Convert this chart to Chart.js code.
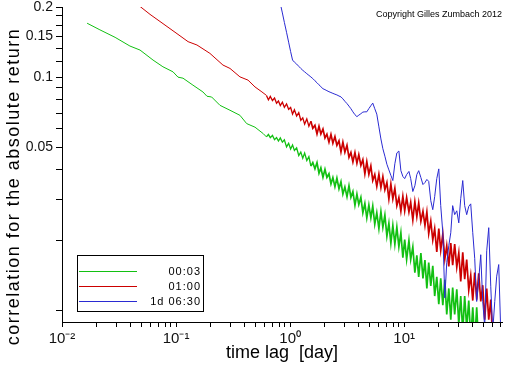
<!DOCTYPE html>
<html lang="en">
<head>
  <meta charset="UTF-8" />
  <title>correlation for the absolute return</title>
  <style>
    * { margin: 0; padding: 0; box-sizing: border-box; }
    body { background: #fff; }
    #wrap { width: 512px; height: 366px; }
  </style>
</head>
<body>
  <div id="wrap"><canvas id="chart" width="512" height="366"></canvas></div>

  <script src="https://cdn.jsdelivr.net/npm/chart.js"></script>
  <script>
    const seriesNames = ['00:03', '01:00', '1d 06:30'];
    const seriesColors = ['#12c012', '#cc0000', '#2a2ad2'];

    const xMajorTicks = [0.01, 0.1, 1, 10];
    const xTickLabels = ['10⁻²', '10⁻¹', '10⁰', '10¹'];
    const yTicks = [0.01, 0.02, 0.03, 0.04, 0.05, 0.06, 0.07, 0.08, 0.09, 0.1, 0.1167, 0.1333, 0.15, 0.1667, 0.1833, 0.2];
    const yLabelled = [0.05, 0.1, 0.15, 0.2];

    // smooth start of the two short-lag series
    const greenLagHead = [0.0166, 0.0215, 0.0292, 0.0394, 0.0483, 0.0628, 0.0767, 0.094, 0.104, 0.115,
      0.1406, 0.172, 0.1866, 0.205, 0.2426, 0.297, 0.363, 0.416, 0.492, 0.582];
    const greenHead = [0.1704, 0.1596, 0.1482, 0.136, 0.1307, 0.1184, 0.1108, 0.1054, 0.1, 0.099,
      0.0924, 0.0864, 0.0828, 0.0822, 0.0757, 0.0721, 0.0686, 0.0632, 0.061, 0.0572];

    const redLagHead = [0.0464, 0.0591, 0.080, 0.104, 0.1274, 0.1524, 0.198, 0.2576, 0.297, 0.363, 0.4275, 0.492, 0.566];
    const redHead = [0.2043, 0.186, 0.1673, 0.1526, 0.142, 0.1374, 0.1265, 0.1127, 0.109, 0.1003, 0.0971, 0.0908, 0.0864];

    // common lag grid for the noisy part
    const tailLags = [
      0.62, 0.645, 0.67, 0.7, 0.73, 0.76, 0.79, 0.82, 0.855, 0.89,
      0.93, 0.97, 1.01, 1.05, 1.09, 1.14, 1.19, 1.24, 1.29, 1.34,
      1.4, 1.46, 1.52, 1.58, 1.65, 1.72, 1.79, 1.86, 1.94, 2.02,
      2.1, 2.19, 2.28, 2.37, 2.47, 2.57, 2.68, 2.79, 2.9, 3.02,
      3.15, 3.28, 3.41, 3.55, 3.7, 3.85, 4.0, 4.17, 4.34, 4.52,
      4.7, 4.9, 5.1, 5.3, 5.52, 5.75, 6.0, 6.25, 6.5, 6.77,
      7.05, 7.34, 7.64, 7.95, 8.28, 8.62, 8.98, 9.35, 9.73, 10.1,
      10.5, 11.0, 11.4, 11.9, 12.4, 12.9, 13.4, 14.0, 14.6, 15.2,
      15.8, 16.4, 17.1, 17.8, 18.5, 19.3, 20.1, 20.9, 21.8, 22.7,
      23.6, 24.6, 25.6, 26.6, 27.7, 28.9, 30.1, 31.3, 32.6, 33.9,
      35.3, 36.8, 38.3, 39.9, 41.5, 43.2, 45.0, 46.9, 48.8, 50.8,
      52.9, 55.1, 57.4, 59.7, 62.2, 64.7, 67.4, 70.2];

    const greenTail = [
      0.0554, 0.0568, 0.055, 0.0562, 0.0539, 0.055, 0.0532, 0.0549, 0.0526, 0.0538,
      0.0502, 0.052, 0.0492, 0.0512, 0.0485, 0.0497, 0.0461, 0.0477, 0.0449, 0.0472,
      0.0439, 0.0456, 0.0415, 0.043, 0.0404, 0.043, 0.0387, 0.0408, 0.0372, 0.0402,
      0.0371, 0.0385, 0.0348, 0.0371, 0.0339, 0.0369, 0.0332, 0.0356, 0.0315, 0.0338,
      0.0307, 0.0342, 0.0305, 0.0323, 0.0282, 0.0315, 0.0284, 0.0305, 0.0262, 0.0287,
      0.0249, 0.0283, 0.0249, 0.028, 0.0234, 0.0262, 0.0224, 0.0265, 0.0227, 0.0256,
      0.0208, 0.0236, 0.0194, 0.0231, 0.0192, 0.0227, 0.0187, 0.0215, 0.0168, 0.0201,
      0.0165, 0.0199, 0.0165, 0.0187, 0.0145, 0.0172, 0.0139, 0.0176, 0.0137, 0.0164,
      0.0124, 0.016, 0.0127, 0.0155, 0.0115, 0.0139, 0.0106, 0.0137, 0.0105, 0.0135,
      0.0096, 0.0124, 0.0091, 0.0125, 0.0096, 0.0123, 0.0087, 0.0115, 0.0081, 0.0115,
      0.0084, 0.011, 0.0075, 0.0103, 0.0073, 0.0103, 0.007];

    const redTail = [
      0.0835, 0.08, 0.0827, 0.0794, 0.0813, 0.0773, 0.079, 0.0755, 0.0781, 0.0742,
      0.0768, 0.0728, 0.0741, 0.0695, 0.0725, 0.0681, 0.0704, 0.0653, 0.0669, 0.0629,
      0.0662, 0.0616, 0.0647, 0.0603, 0.0622, 0.0571, 0.0616, 0.057, 0.0599, 0.0548,
      0.0569, 0.0526, 0.0568, 0.0521, 0.0556, 0.051, 0.0533, 0.0478, 0.0526, 0.0476,
      0.051, 0.0453, 0.0475, 0.0433, 0.0475, 0.0427, 0.0465, 0.0418, 0.0443, 0.0385,
      0.0434, 0.0383, 0.0416, 0.036, 0.0382, 0.034, 0.0383, 0.0336, 0.0374, 0.0329,
      0.0353, 0.03, 0.0348, 0.03, 0.0333, 0.0281, 0.0304, 0.0266, 0.0308, 0.0267,
      0.0304, 0.0264, 0.029, 0.0244, 0.0292, 0.0252, 0.0288, 0.0241, 0.0266, 0.0231,
      0.0264, 0.0213, 0.0241, 0.02, 0.0224, 0.0178, 0.0224, 0.0181, 0.0212, 0.0166,
      0.0189, 0.0154, 0.0194, 0.0156, 0.0192, 0.0153, 0.0176, 0.0133, 0.0177, 0.0136,
      0.0165, 0.0122, 0.0141, 0.011, 0.0145, 0.0111, 0.0144, 0.0109, 0.0128, 0.0091,
      0.0124, 0.0091, 0.0111, 0.0074];

    const blueTail = [
      null, null, null, null, null, null, null, 0.207, 0.1886, 0.1718,
      0.1558, 0.1413, 0.1287, 0.1184, 0.116, 0.1138, 0.1113, 0.109, 0.107, 0.1054,
      0.1035, 0.1018, 0.1002, 0.0986, 0.0965, 0.0946, 0.0927, 0.091, 0.0892, 0.0884,
      0.0875, 0.0866, 0.0859, 0.0852, 0.0845, 0.0839, 0.083, 0.0823, 0.0807, 0.0788,
      0.077, 0.0751, 0.0732, 0.071, 0.069, 0.0677, 0.0687, 0.0697, 0.0708, 0.071,
      0.071, 0.0733, 0.0754, 0.0774, 0.0732, 0.0694, 0.0612, 0.0543, 0.0493, 0.0458,
      0.0423, 0.04, 0.0379, 0.036, 0.0425, 0.0473, 0.0482, 0.0397, 0.0375, 0.0367,
      0.0382, 0.0394, 0.0367, 0.0323, 0.0342, 0.0382, 0.0397, 0.0371, 0.0346, 0.0353,
      0.0364, 0.0357, 0.0295, 0.027, 0.0307, 0.0367, 0.0404, 0.0281, 0.0215, 0.0113,
      0.016, 0.0189, 0.0215, 0.0281, 0.0257, 0.0267, 0.0237, 0.0301, 0.036, 0.0281,
      0.0257, 0.0279, 0.0286, 0.0215, 0.0167, 0.0109, 0.0135, 0.0173, 0.0109, 0.0085,
      0.018, 0.0226, 0.0126, 0.0081, 0.0109, 0.014, 0.0157, 0.0081];

    const FONT = "'Liberation Sans', Arial, Helvetica, sans-serif";

    function points(lags, vals) {
      const pts = [];
      lags.forEach((x, i) => {
        if (vals[i] != null) pts.push({ x: x, y: vals[i] });
      });
      return pts;
    }

    const seriesData = [
      points(greenLagHead, greenHead).concat(points(tailLags, greenTail)),
      points(redLagHead, redHead).concat(points(tailLags, redTail)),
      points(tailLags, blueTail)
    ];

    // minor ticks 1..9 in every decade
    const xTicks = [];
    xMajorTicks.forEach(d => {
      for (let m = 1; m <= 9; m++) if (m * d <= 72) xTicks.push(m * d);
    });

    // noisy part drawn a bit heavier so the band reads as filled
    function noiseWidth(c, i) {
      if (i === 2) return 1;
      const x = c.p0.parsed.x;
      if (x < 0.6) return 1;
      if (x < 1.5) return 1.3;
      return 1.7;
    }

    const decorations = {
      id: 'decorations',
      afterDraw(chart) {
        const ctx = chart.ctx;
        ctx.save();
        ctx.fillStyle = '#000';

        // y axis title
        ctx.save();
        ctx.translate(18.5, 186.5);
        ctx.rotate(-Math.PI / 2);
        ctx.font = '18px ' + FONT;
        ctx.letterSpacing = '1.5px';
        ctx.textAlign = 'center';
        ctx.textBaseline = 'alphabetic';
        ctx.fillText('correlation for the absolute return', 0, 0);
        ctx.restore();

        // copyright
        ctx.font = '9px ' + FONT;
        ctx.textAlign = 'right';
        ctx.textBaseline = 'alphabetic';
        ctx.fillText('Copyright Gilles Zumbach 2012', 502, 17);

        // legend
        ctx.fillStyle = '#fff';
        ctx.fillRect(77.5, 255.5, 126, 56);
        ctx.strokeStyle = '#000';
        ctx.lineWidth = 1;
        ctx.strokeRect(77.5, 255.5, 126, 56);
        ctx.font = '11px ' + FONT;
        ctx.letterSpacing = '1px';
        ctx.textBaseline = 'middle';
        ctx.textAlign = 'right';
        seriesNames.forEach((name, i) => {
          const y = 271.5 + i * 15;
          ctx.strokeStyle = seriesColors[i];
          ctx.beginPath();
          ctx.moveTo(79, y);
          ctx.lineTo(137, y);
          ctx.stroke();
          ctx.fillStyle = '#000';
          ctx.fillText(name, 201, y + 0.5);
        });
        ctx.restore();
      }
    };

    new Chart(document.getElementById('chart'), {
      type: 'line',
      data: {
        datasets: seriesData.map((d, i) => ({
          label: seriesNames[i],
          data: d,
          borderColor: seriesColors[i],
          backgroundColor: seriesColors[i],
          borderWidth: 1,
          pointRadius: 0,
          tension: 0,
          fill: false,
          order: 3 - i,
          segment: { borderWidth: c => noiseWidth(c, i) }
        }))
      },
      options: {
        responsive: false,
        animation: false,
        events: [],
        layout: { padding: { left: 0, right: 10, top: 7, bottom: 0 } },
        plugins: {
          legend: { display: false },
          tooltip: { enabled: false }
        },
        scales: {
          x: {
            type: 'logarithmic',
            min: 0.01,
            max: 72,
            afterBuildTicks: s => { s.ticks = xTicks.map(v => ({ value: v })); },
            afterFit: s => { s.height = 44; s.paddingLeft = 0; s.paddingRight = 0; },
            grid: { drawOnChartArea: false, drawTicks: true, tickLength: 5, color: '#000' },
            border: { display: true, color: '#000', width: 1 },
            ticks: {
              autoSkip: false,
              maxRotation: 0,
              minRotation: 0,
              padding: 3,
              color: '#111',
              font: { family: FONT, size: 15 },
              callback: v => {
                const i = xMajorTicks.indexOf(v);
                return i >= 0 ? xTickLabels[i] : '';
              }
            },
            title: {
              display: true,
              text: 'time lag  [day]',
              color: '#000',
              font: { family: FONT, size: 18 },
              padding: { top: 0, bottom: 2 }
            }
          },
          y: {
            type: 'logarithmic',
            min: 0.0089,
            max: 0.2,
            afterBuildTicks: s => { s.ticks = yTicks.map(v => ({ value: v })); },
            afterFit: s => { s.width = 62; s.paddingTop = 0; s.paddingBottom = 0; },
            grid: { drawOnChartArea: false, drawTicks: true, tickLength: 6, color: '#000' },
            border: { display: true, color: '#000', width: 1 },
            ticks: {
              autoSkip: false,
              padding: 3,
              color: '#111',
              font: { family: FONT, size: 14 },
              callback: v => (yLabelled.indexOf(v) >= 0 ? String(v) : '')
            }
          }
        }
      },
      plugins: [decorations]
    });
  </script>
</body>
</html>
